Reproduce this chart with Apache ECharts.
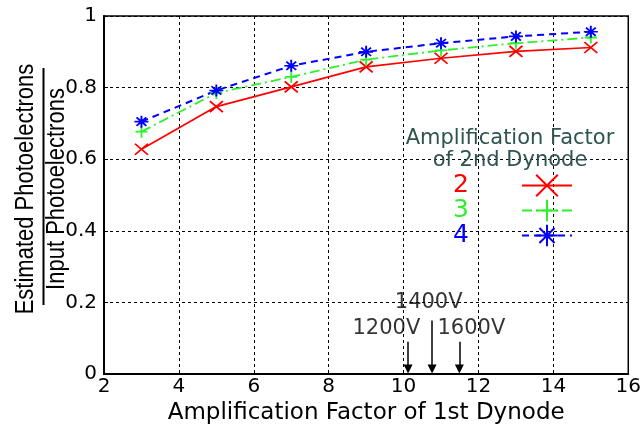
<!DOCTYPE html>
<html><head><meta charset="utf-8">
<script src="https://cdn.jsdelivr.net/npm/echarts@6/dist/echarts.min.js"></script>
<style>html,body{margin:0;padding:0;background:#fff}#c{width:644px;height:430px}</style>
</head><body><div id="c"></div>
<script>
// ---- data ----
const xValues = [3, 5, 7, 9, 11, 13, 15];
const factor2 = [0.628, 0.747, 0.802, 0.858, 0.882, 0.901, 0.912];
const factor3 = [0.677, 0.785, 0.830, 0.878, 0.904, 0.924, 0.940];
const factor4 = [0.705, 0.792, 0.861, 0.900, 0.924, 0.943, 0.956];
const legendNames = ['2', '3', '4'];
const legendTitle = 'Amplification Factor\nof 2nd Dynode';
const xAxisName = 'Amplification Factor of 1st Dynode';
const yNameTop = 'Estimated Photoelectrons';
const yNameBottom = 'Input Photoelectrons';
const arrowX = [10.12, 10.76, 11.49];
const arrowTop = [0.09, 0.15, 0.09];
const arrowBottom = [0.014, 0.014, 0.014];
const voltageLabels = ['1200V', '1400V', '1600V'];
const voltageLabelX = [9.54, 10.67, 11.81];
const voltageLabelY = [0.128, 0.2, 0.128];

const colors = ['#ff0000', '#2ef02e', '#0000ff'];
const X_SYM = 'path://M0,0L10,10M10,0L0,10';
const PLUS_SYM = 'path://M5,0L5,10M0,5L10,5';
const STAR_SYM = 'path://M5,0L5,10M0,5L10,5M1.5,1.5L8.5,8.5M8.5,1.5L1.5,8.5';

const chart = echarts.init(document.getElementById('c'), null, {renderer: 'canvas'});
const FONT_W = 'DejaVu Sans';

function lineSeries(name, vals, color, sym, size, type, width) {
  return {
    name: name, type: 'line', data: xValues.map((x, i) => [x, vals[i]]),
    symbol: sym, symbolSize: size,
    itemStyle: {color: color, borderColor: color, borderWidth: 1.8},
    lineStyle: {color: color, width: width, type: type},
    emphasis: {disabled: true}, z: 3
  };
}

chart.setOption({
  animation: false,
  backgroundColor: '#fff',
  grid: {left: 104, right: 14, top: 16, bottom: 54, show: true, borderColor: '#000', borderWidth: 1.5, backgroundColor: 'transparent'},
  title: {
    text: legendTitle, left: 510, top: 128, padding: 0, textAlign: 'center',
    textStyle: {fontFamily: FONT_W, fontSize: 21, fontWeight: 'normal', color: '#2e5450', lineHeight: 22}
  },
  legend: {
    data: legendNames.map((n, i) => ({name: n, textStyle: {color: colors[i]}})),
    orient: 'vertical', right: 71, top: 173, align: 'right', padding: 0, itemGap: 0,
    itemWidth: 50, itemHeight: 27, selectedMode: false,
    textStyle: {fontFamily: FONT_W, fontSize: 25, padding: [0, 48, 0, 0]}
  },
  xAxis: {
    type: 'value', min: 2, max: 16, interval: 2,
    name: xAxisName, nameLocation: 'middle', nameGap: 24,
    nameTextStyle: {fontFamily: FONT_W, fontSize: 23, color: '#000'},
    axisLine: {show: true, lineStyle: {color: '#000', width: 2}},
    axisTick: {show: true, inside: true, length: 4, lineStyle: {color: '#000'}},
    axisLabel: {fontFamily: FONT_W, fontSize: 20, color: '#000', margin: 3},
    splitLine: {show: true, lineStyle: {color: '#000', type: [3, 3], width: 1}}
  },
  yAxis: {
    type: 'value', min: 0, max: 1, interval: 0.2,
    axisLine: {show: true, lineStyle: {color: '#000', width: 2}},
    axisTick: {show: true, inside: true, length: 4, lineStyle: {color: '#000'}},
    axisLabel: {fontFamily: FONT_W, fontSize: 20, color: '#000', margin: 7},
    splitLine: {show: true, lineStyle: {color: '#000', type: [3, 3], width: 1}}
  },
  graphic: [
    {type: 'text', x: 26, y: 189, rotation: Math.PI / 2, scaleY: 1.15,
     style: {text: yNameTop, font: '22px "Liberation Sans"', fill: '#000', textAlign: 'center', textVerticalAlign: 'middle'}},
    {type: 'line', shape: {x1: 43.5, y1: 68, x2: 43.5, y2: 305}, style: {stroke: '#000', lineWidth: 2}},
    {type: 'text', x: 57, y: 189, rotation: Math.PI / 2, scaleY: 1.15,
     style: {text: yNameBottom, font: '22px "Liberation Sans"', fill: '#000', textAlign: 'center', textVerticalAlign: 'middle'}}
  ],
  series: [
    lineSeries('2', factor2, colors[0], X_SYM, [13, 11], 'solid', 1.7),
    lineSeries('3', factor3, colors[1], PLUS_SYM, [12, 12], [10, 4, 2, 4], 1.8),
    lineSeries('4', factor4, colors[2], STAR_SYM, [14, 12], [7, 5], 2),
    {
      name: 'voltage', type: 'scatter', silent: true, z: 4,
      data: voltageLabelX.map((x, i) => [x, voltageLabelY[i], voltageLabels[i]]),
      symbolSize: 0, itemStyle: {color: '#000'},
      label: {show: true, position: 'inside', formatter: p => p.data[2], fontFamily: FONT_W, fontSize: 21, color: '#000', textBorderWidth: 0},
      markLine: {
        silent: true, symbol: ['none', 'triangle'], symbolSize: 9,
        lineStyle: {color: '#000', type: 'solid', width: 1.5},
        itemStyle: {color: '#000'},
        label: {show: false},
        data: arrowX.map((x, i) => [{coord: [x, arrowTop[i]]}, {coord: [x, arrowBottom[i]]}])
      }
    }
  ]
});
</script>
</body></html>
